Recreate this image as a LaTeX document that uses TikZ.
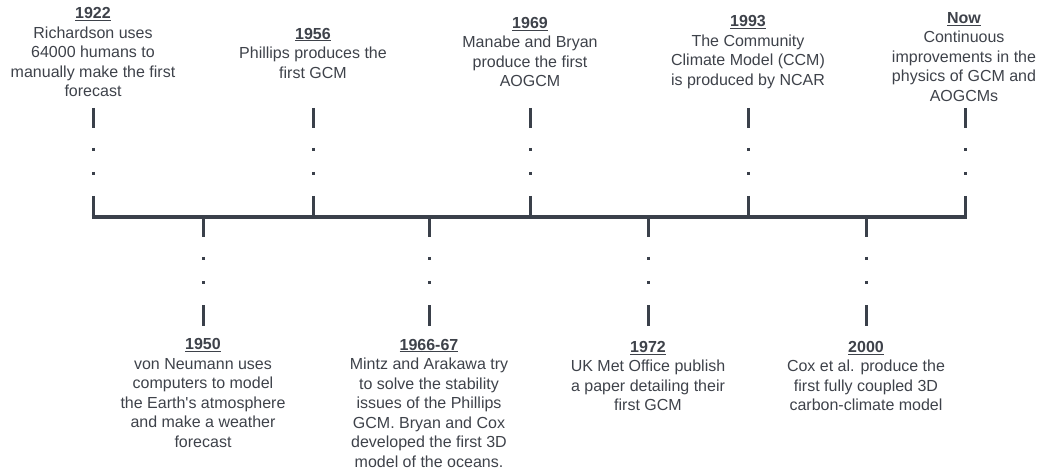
\documentclass[tikz,border=0pt]{standalone}
\usepackage{fontspec}
\setmainfont{Liberation Sans}
\usepackage{xcolor}
\definecolor{slategray}{RGB}{58,64,74}
\definecolor{textgray}{RGB}{62,66,74}
\newcommand{\evyear}[1]{\textbf{\underline{#1}}}

\begin{document}
\begin{tikzpicture}[
    x=1pt, y=-1pt,
    event/.style={align=center, text=textgray, font=\fontsize{16}{19.5}\selectfont, inner sep=0pt},
    axisline/.style={draw=slategray, line width=4pt},
    tickline/.style={draw=slategray, line width=3pt, dash pattern=on 20pt off 20pt on 3pt off 21pt on 3pt off 21pt on 21pt}
]
    \useasboundingbox (0,0) rectangle (1041,470);

    % Points on the time axis
    \coordinate (a1922) at (93,217);
    \coordinate (a1950) at (203,217);
    \coordinate (a1956) at (313,217);
    \coordinate (a1966) at (429,217);
    \coordinate (a1969) at (530,217);
    \coordinate (a1972) at (648,217);
    \coordinate (a1993) at (748,217);
    \coordinate (a2000) at (866,217);
    \coordinate (aNow) at (965,217);

    % Free ends of the ticks
    \coordinate (e1922) at (93,108);
    \coordinate (e1950) at (203,326);
    \coordinate (e1956) at (313,108);
    \coordinate (e1966) at (429,326);
    \coordinate (e1969) at (530,108);
    \coordinate (e1972) at (648,326);
    \coordinate (e1993) at (748,108);
    \coordinate (e2000) at (866,326);
    \coordinate (eNow) at (965,108);

    % Events above the axis
    \node[event] (n1922) at (93,52) {\evyear{1922}\\Richardson uses\\64000 humans to\\manually make the first\\forecast};
    \node[event] (n1956) at (313,53) {\evyear{1956}\\Phillips produces the\\first GCM};
    \node[event] (n1969) at (530,52) {\evyear{1969}\\Manabe and Bryan\\produce the first\\AOGCM};
    \node[event] (n1993) at (748,52) {\evyear{1993}\\The Community\\Climate Model (CCM)\\is produced by NCAR};
    \node[event] (nNow) at (964,57) {\evyear{Now}\\Continuous\\improvements in the\\physics of GCM and\\AOGCMs};

    % Events below the axis
    \node[event] (n1950) at (203,393) {\evyear{1950}\\von Neumann uses\\computers to model\\the Earth\textquotesingle s atmosphere\\and make a weather\\forecast};
    \node[event] (n1966) at (429,403) {\evyear{1966-67}\\Mintz and Arakawa try\\to solve the stability\\issues of the Phillips\\GCM. Bryan and Cox\\developed the first 3D\\model of the oceans.};
    \node[event] (n1972) at (648,376) {\evyear{1972}\\UK Met Office publish\\a paper detailing their\\first GCM};
    \node[event] (n2000) at (866,376) {\evyear{2000}\\Cox et al. produce the\\first fully coupled 3D\\carbon-climate model};

    % Ticks
    \draw[tickline] (e1922) -- (a1922);
    \draw[tickline] (e1956) -- (a1956);
    \draw[tickline] (e1969) -- (a1969);
    \draw[tickline] (e1993) -- (a1993);
    \draw[tickline] (eNow) -- (aNow);
    \draw[tickline] (a1950) -- (e1950);
    \draw[tickline] (a1966) -- (e1966);
    \draw[tickline] (a1972) -- (e1972);
    \draw[tickline] (a2000) -- (e2000);

    % Time axis
    \draw[axisline] ([xshift=-1.5pt]a1922) -- ([xshift=1.5pt]aNow);
\end{tikzpicture}
\end{document}
